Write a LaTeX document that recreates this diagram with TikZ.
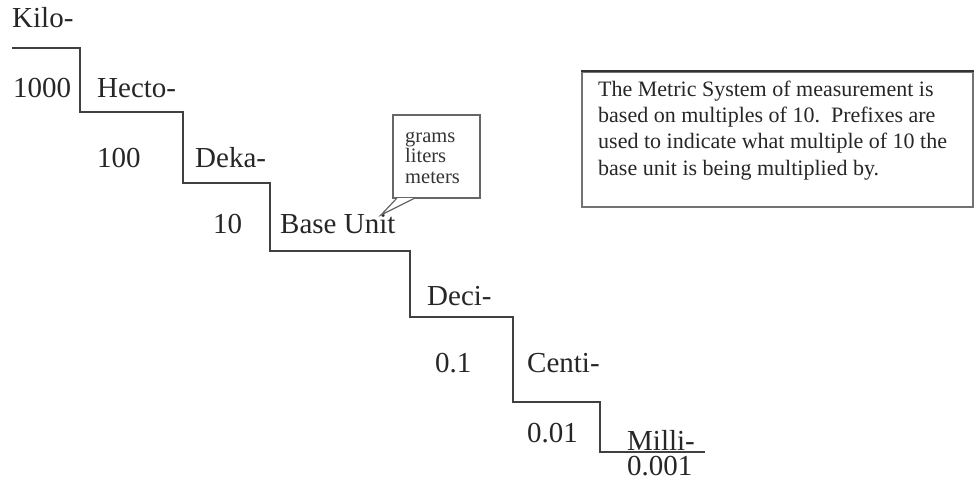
\documentclass[tikz,border=0pt]{standalone}
\usepackage{fontspec}
\setmainfont{Liberation Serif}
\begin{document}
\begin{tikzpicture}[x=1pt,y=-1pt,
  lbl/.style={anchor=base west,inner sep=0pt,font=\fontsize{29}{34}\selectfont,text=black!85},
  stair/.style={draw=black!75,line width=1.6pt},
  callbox/.style={draw=black!60,line width=1.2pt,fill=white},
  infotext/.style={anchor=base west,inner sep=0pt,align=left,font=\fontsize{22}{26.2}\selectfont,text=black!85},
  smalltext/.style={anchor=base west,inner sep=0pt,align=left,font=\fontsize{20.5}{20.5}\selectfont,text=black!80}]
\useasboundingbox (0,0) rectangle (976,480);
% staircase
\coordinate (s0) at (12,48);
\coordinate (s1) at (80,48);
\coordinate (s2) at (80,112);
\coordinate (s3) at (183,112);
\coordinate (s4) at (183,183);
\coordinate (s5) at (270,183);
\coordinate (s6) at (270,251);
\coordinate (s7) at (410,251);
\coordinate (s8) at (410,317);
\coordinate (s9) at (513,317);
\coordinate (s10) at (513,402);
\coordinate (s11) at (600,402);
\coordinate (s12) at (600,452);
\coordinate (s13) at (705,452);
\draw[stair] (s0) -- (s1) -- (s2) -- (s3) -- (s4) -- (s5) -- (s6) -- (s7) -- (s8) -- (s9) -- (s10) -- (s11) -- (s12) -- (s13);
% labels
\node[lbl] (kilo) at (12,27) {Kilo-};
\node[lbl] (n1000) at (13,97) {1000};
\node[lbl] (hecto) at (97,97) {Hecto-};
\node[lbl] (n100) at (97,167) {100};
\node[lbl] (deka) at (195,167) {Deka-};
\node[lbl] (n10) at (213,233) {10};
\node[lbl] (base) at (280,233) {Base Unit};
\node[lbl] (deci) at (427,305) {Deci-};
\node[lbl] (n01) at (435,372) {0.1};
\node[lbl] (centi) at (527,372) {Centi-};
\node[lbl] (n001) at (527,442) {0.01};
\node[lbl,text depth=0pt] (milli) at (627,450) {Milli-};
\node[lbl,text depth=0pt] (n0001) at (627,475.5) {0.001};
% callout
\node[callbox,minimum width=87pt,minimum height=83pt,inner sep=0pt] (cbox) at (436.5,156.5) {};
\coordinate (tip) at (381,215);
\coordinate (pa) at (397,198);
\coordinate (pb) at (415,198);
\fill[white] (pa) -- (tip) -- (pb) -- cycle;
\draw[draw=black!60,line width=1.2pt] (pa) -- (tip) -- (pb);
\node[smalltext] (units) at (405,183) {grams\\liters\\meters};
% info box
\node[draw=black!55,line width=1.3pt,minimum width=391pt,minimum height=135pt,inner sep=0pt] (infobox) at (777.5,139.5) {};
\draw[black!80,line width=2pt] (infobox.north west) -- (infobox.north east);
\node[infotext] (info) at (598,175) {The Metric System of measurement is\\based on multiples of 10.\ \ Prefixes are\\used to indicate what multiple of 10 the\\base unit is being multiplied by.};
\end{tikzpicture}
\end{document}
